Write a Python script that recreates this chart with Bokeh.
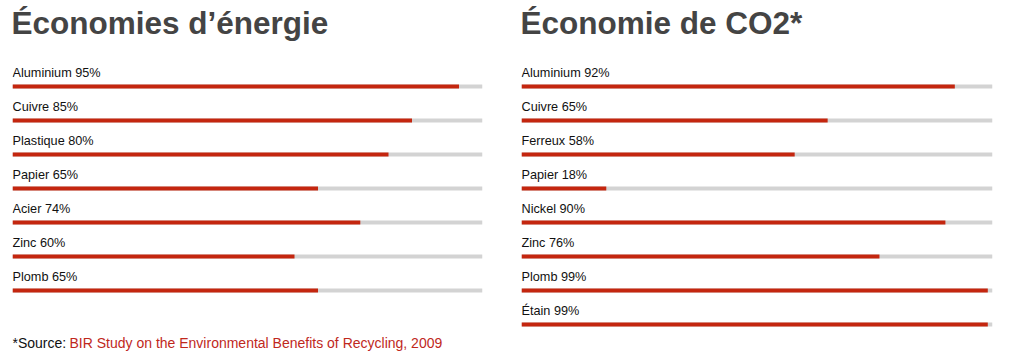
from bokeh.plotting import figure
from bokeh.layouts import row
from bokeh.models import Range1d, ColumnDataSource
from bokeh.core.properties import value
from bokeh.embed import file_html
from bokeh.resources import INLINE

title_energy = "Économies d’énergie"
energy_materials = ["Aluminium", "Cuivre", "Plastique", "Papier", "Acier", "Zinc", "Plomb"]
energy_values = [95, 85, 80, 65, 74, 60, 65]

title_co2 = "Économie de CO2*"
co2_materials = ["Aluminium", "Cuivre", "Ferreux", "Papier", "Nickel", "Zinc", "Plomb", "Étain"]
co2_values = [92, 65, 58, 18, 90, 76, 99, 99]

source_prefix = "*Source: "
source_text = "BIR Study on the Environmental Benefits of Recycling, 2009"

RED = "#c4260f"
GRAY = "#d3d3d3"
TITLE_COLOR = "#444444"
FONT = value("Liberation Sans")
ROW = 34      # px per row
FIRST = 86    # px centre of first bar
H = 351


def panel(title, mats, vals, width, left, right, with_source=False):
    p = figure(width=width, height=H,
               x_range=Range1d(0, 100),
               y_range=Range1d((H - FIRST) / ROW, -FIRST / ROW),
               output_backend="svg", toolbar_location=None,
               x_axis_type=None, y_axis_type=None,
               min_border_left=left, min_border_right=right,
               min_border_top=0, min_border_bottom=0)
    p.outline_line_color = None
    p.grid.visible = False
    p.background_fill_color = "white"
    p.border_fill_color = "white"

    idx = list(range(len(mats)))
    src = ColumnDataSource(dict(
        y=idx, v=vals, full=[100] * len(vals),
        label=[f"{m} {v}%" for m, v in zip(mats, vals)],
        x0=[0] * len(vals)))
    p.hbar(y="y", left=0, right="full", height=4 / ROW, source=src,
           fill_color=GRAY, line_color=None)
    p.hbar(y="y", left=0, right="v", height=4 / ROW, source=src,
           fill_color=RED, line_color=None)
    p.text(x="x0", y="y", text="label", source=src, y_offset=-14,
           text_font=FONT, text_font_size="12.7px", text_color="#111111",
           text_baseline="alphabetic", text_align="left")

    p.text(x=[0], y=[0], text=[title], y_offset=-64, x_offset=-1,
           text_font=FONT, text_font_size="31.5px", text_font_style="bold",
           text_color=TITLE_COLOR, text_baseline="alphabetic", text_align="left")

    if with_source:
        p.text(x=[0], y=[0], text=[source_prefix], y_offset=256,
               text_font=FONT, text_font_size="14px", text_color="#111111",
               text_baseline="alphabetic", text_align="left")
        p.text(x=[0], y=[0], text=[source_text], y_offset=256, x_offset=57,
               text_font=FONT, text_font_size="14px", text_color="#c0281c",
               text_baseline="alphabetic", text_align="left")
    return p


p1 = panel(title_energy, energy_materials, energy_values, 500, 12, 18, with_source=True)
p2 = panel(title_co2, co2_materials, co2_values, 515, 21, 23)

layout = row(p1, p2, spacing=0)
open("out.html", "w").write(file_html(layout, INLINE))
